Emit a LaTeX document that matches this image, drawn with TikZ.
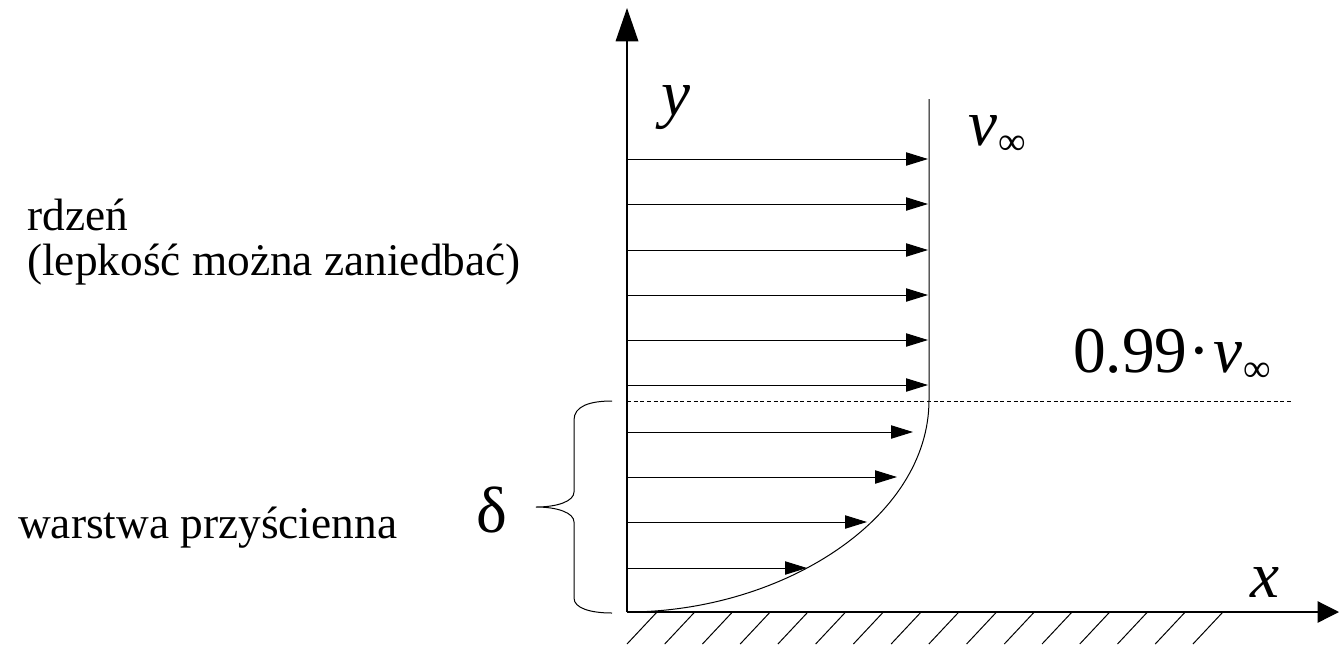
\documentclass[tikz,border=0pt]{standalone}
\usepackage{fontspec}
\setmainfont{Liberation Serif}
\usetikzlibrary{arrows.meta}
\begin{document}
\begin{tikzpicture}[x=0.75pt,y=-0.75pt,
  thin line/.style={line width=0.75pt},
  vel/.style={line width=0.75pt,-{Triangle[length=16.5pt,width=10pt]}},
  yaxis/.style={line width=0.9pt,-{Triangle[length=25pt,width=17pt]}},
  xaxis/.style={line width=0.9pt,-{Triangle[length=16pt,width=16pt]}},
  lbl/.style={inner sep=0pt,font=\fontsize{34}{41}\selectfont},
  sym/.style={inner sep=0pt,font=\fontsize{49}{59}\selectfont}]
\useasboundingbox (0,0) rectangle (1339,644);

% axes
\coordinate (O) at (627,612);
\coordinate (ytip) at (627,8);
\coordinate (xtip) at (1339,612);
\coordinate (wallend) at (1247,612);
\draw[yaxis] (O) -- (ytip);
\draw[xaxis] (O) -- (xtip);
\draw[line width=1.3pt] (O) -- (wallend);

% hatching
\foreach \i in {0,...,15}
  \draw[thin line] ({657+37.73*\i},612) -- ({627+37.73*\i},644);

% velocity profile
\coordinate (pj) at (929,400);
\coordinate (ptop) at (929,99);
\draw[thin line] (O) .. controls (780,612) and (929,520) .. (pj) -- (ptop);

% velocity arrows
\foreach \yy in {159,204,250,295,340,385}
  \draw[vel] (627,\yy) -- (928,\yy);
\foreach \yy/\xx in {432/913,477/897,522/867,568/807}
  \draw[vel] (627,\yy) -- (\xx,\yy);

% boundary-layer edge
\coordinate (dl) at (627,401);
\coordinate (dr) at (1292,401);
\draw[line width=0.6pt,dash pattern=on 3pt off 2pt] (dl) -- (dr);

% brace
\coordinate (bt) at (612,401);
\coordinate (bb) at (612,613);
\coordinate (btip) at (536,507);
\draw[thin line] (bt) .. controls (590,401) and (574,406) .. (574,420) -- (574,492)
  .. controls (574,501) and (558,507) .. (btip)
  .. controls (558,507) and (574,513) .. (574,522) -- (574,598)
  .. controls (574,608) and (590,613) .. (bb);

% labels
\node[sym,anchor=base west] (ylab) at (661,115) {\itshape y};
\node[sym,anchor=base west] (xlab) at (1250,597) {\itshape x};
\node[sym,anchor=base west] (vinf) at (968,145) {{\itshape v}\kern1pt\raisebox{-7pt}{\fontsize{29}{30}\selectfont ∞}};
\node[sym,anchor=base west] (v99) at (1073,372) {0.99\kern1pt·\kern2pt{\itshape v}\kern1pt\raisebox{-7pt}{\fontsize{29}{30}\selectfont ∞}};
\node[sym] (delta) at (492,510) {δ};

\node[lbl,anchor=base west] (core1) at (27,230) {rdzeń};
\node[lbl,anchor=base west] (core2) at (27,275) {(lepkość można zaniedbać)};
\node[lbl,anchor=base west] (wall) at (18,538) {warstwa przyścienna};
\end{tikzpicture}
\end{document}
